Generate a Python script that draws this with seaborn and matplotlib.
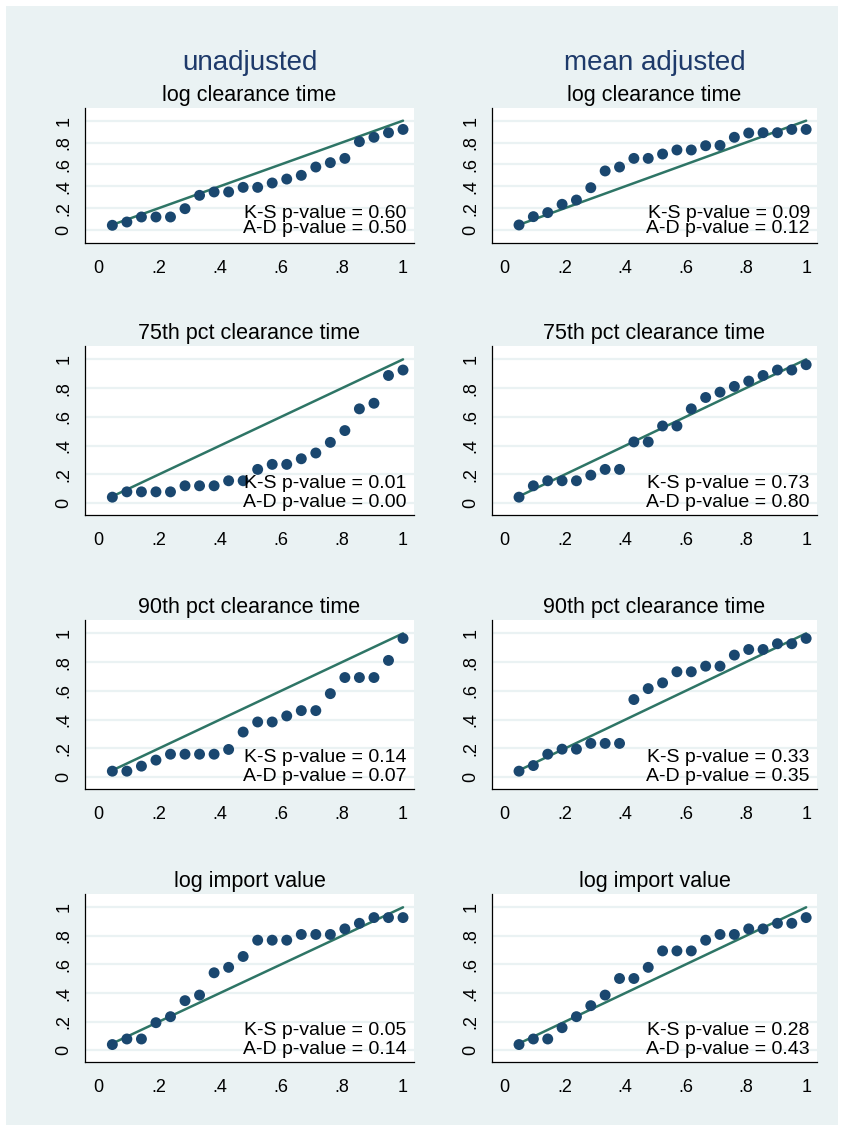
import numpy as np
import pandas as pd
import matplotlib
matplotlib.use("Agg")
import matplotlib.pyplot as plt
import seaborn as sns
from matplotlib.patches import Rectangle

sns.set_theme(style="white")
plt.rcParams['font.family'] = ['Liberation Sans', 'DejaVu Sans']

# ---------------- data ----------------
x_pos = [0.0476, 0.0952, 0.1429, 0.1905, 0.2381, 0.2857, 0.3333, 0.3810, 0.4286,
         0.4762, 0.5238, 0.5714, 0.6190, 0.6667, 0.7143, 0.7619, 0.8095, 0.8571,
         0.9048, 0.9524, 1.0000]
ref_x = [0.0476, 1.0]
ref_y = [0.0476, 1.0]

column_titles = ["unadjusted", "mean adjusted"]
panel_titles = ["log clearance time", "75th pct clearance time",
                "90th pct clearance time", "log import value"]

unadj_logct = [0.043, 0.073, 0.119, 0.119, 0.119, 0.195, 0.317, 0.348, 0.348, 0.390, 0.390,
               0.430, 0.466, 0.500, 0.576, 0.616, 0.655, 0.808, 0.848, 0.890, 0.920]
adj_logct = [0.046, 0.122, 0.159, 0.235, 0.274, 0.387, 0.540, 0.576, 0.655, 0.655, 0.695,
             0.732, 0.732, 0.771, 0.774, 0.848, 0.887, 0.890, 0.890, 0.920, 0.920]
unadj_p75 = [0.042, 0.079, 0.079, 0.079, 0.079, 0.121, 0.121, 0.121, 0.156, 0.156, 0.235,
             0.270, 0.270, 0.309, 0.349, 0.423, 0.505, 0.656, 0.695, 0.888, 0.926]
adj_p75 = [0.042, 0.121, 0.156, 0.156, 0.156, 0.195, 0.235, 0.235, 0.426, 0.426, 0.537,
           0.537, 0.656, 0.735, 0.772, 0.812, 0.849, 0.888, 0.926, 0.926, 0.963]
unadj_p90 = [0.042, 0.042, 0.077, 0.119, 0.160, 0.160, 0.160, 0.160, 0.193, 0.314, 0.384,
             0.384, 0.426, 0.463, 0.463, 0.581, 0.693, 0.693, 0.693, 0.812, 0.965]
adj_p90 = [0.042, 0.081, 0.160, 0.195, 0.195, 0.235, 0.235, 0.235, 0.540, 0.616, 0.656,
           0.733, 0.733, 0.772, 0.772, 0.849, 0.888, 0.888, 0.928, 0.928, 0.965]
unadj_imp = [0.040, 0.079, 0.079, 0.193, 0.235, 0.347, 0.386, 0.542, 0.580, 0.656, 0.770,
             0.770, 0.770, 0.810, 0.810, 0.810, 0.849, 0.888, 0.928, 0.928, 0.928]
adj_imp = [0.040, 0.079, 0.079, 0.158, 0.235, 0.312, 0.386, 0.502, 0.502, 0.580, 0.695,
           0.695, 0.695, 0.770, 0.810, 0.810, 0.849, 0.849, 0.888, 0.888, 0.928]

ks_pvalues = [["0.60", "0.09"], ["0.01", "0.73"], ["0.14", "0.33"], ["0.05", "0.28"]]
ad_pvalues = [["0.50", "0.12"], ["0.00", "0.80"], ["0.07", "0.35"], ["0.14", "0.43"]]

series = [[unadj_logct, adj_logct], [unadj_p75, adj_p75],
          [unadj_p90, adj_p90], [unadj_imp, adj_imp]]

tick_vals = [0, 0.2, 0.4, 0.6, 0.8, 1.0]
tick_labels = ["0", ".2", ".4", ".6", ".8", "1"]

# ---------------- style ----------------
BG = "#EAF2F3"
MARKER = "#1A476F"
LINE = "#2E7566"
HEAD = "#1E3A6A"

W, H = 845, 1131
fig = plt.figure(figsize=(W / 100, H / 100), dpi=100)
fig.patch.set_facecolor("white")
fig.add_artist(Rectangle((6 / W, 1 - 1125 / H), (838 - 6) / W, (1125 - 6) / H,
                         transform=fig.transFigure, facecolor=BG, edgecolor="none", zorder=-10))

col_x = [(85, 414), (492, 817)]
row_y = [(108, 243), (346, 515), (620, 789), (894, 1062)]
ylims = [(-0.119, 1.116), (-0.082, 1.093), (-0.082, 1.093), (-0.082, 1.093)]
ks_y = [0.155, 0.14, 0.14, 0.14]
ad_y = [0.012, 0.008, 0.008, 0.008]

for r in range(4):
    for c in range(2):
        x0, x1 = col_x[c]
        y0, y1 = row_y[r]
        ax = fig.add_axes([x0 / W, 1 - y1 / H, (x1 - x0) / W, (y1 - y0) / H])
        ax.set_facecolor("white")
        df = pd.DataFrame({"x": x_pos, "y": series[r][c]})
        for gv in tick_vals:
            ax.axhline(gv, color=BG, lw=1.6, zorder=0)
        sns.lineplot(x=ref_x, y=ref_y, ax=ax, color=LINE, lw=1.8, zorder=2)
        sns.scatterplot(data=df, x="x", y="y", ax=ax, color=MARKER, s=62,
                        edgecolor="none", zorder=3)
        ax.set_xlim(-0.042, 1.036)
        ax.set_ylim(*ylims[r])
        ax.set_xticks(tick_vals)
        ax.set_xticklabels(tick_labels)
        ax.set_yticks(tick_vals)
        ax.set_yticklabels(tick_labels)
        ax.set_xlabel("")
        ax.set_ylabel("")
        for s in ["top", "right"]:
            ax.spines[s].set_visible(False)
        for s in ["left", "bottom"]:
            ax.spines[s].set_color("black")
            ax.spines[s].set_linewidth(0.9)
        ax.tick_params(axis="both", which="both", direction="out", length=5, width=0.9,
                       color="black", labelsize=13, labelcolor="black")
        ax.tick_params(axis="x", pad=7)
        ax.tick_params(axis="y", pad=4, labelrotation=90)
        for lab in ax.get_yticklabels():
            lab.set_va("center")
        ax.grid(False)
        ax.text(1.012, ks_y[r], f"K-S p-value = {ks_pvalues[r][c]}", ha="right", va="center",
                fontsize=14, color="black", zorder=4)
        ax.text(1.012, ad_y[r], f"A-D p-value = {ad_pvalues[r][c]}", ha="right", va="center",
                fontsize=14, color="black", zorder=4)
        # panel title
        fig.text((x0 + x1) / 2 / W, 1 - (y0 - 13) / H, panel_titles[r],
                 ha="center", va="center", fontsize=15.5, color="black")

for c in range(2):
    x0, x1 = col_x[c]
    fig.text((x0 + x1) / 2 / W, 1 - 63 / H, column_titles[c], ha="center", va="center",
             fontsize=20, color=HEAD)

fig.savefig("out.png", dpi=100, facecolor=fig.get_facecolor())
